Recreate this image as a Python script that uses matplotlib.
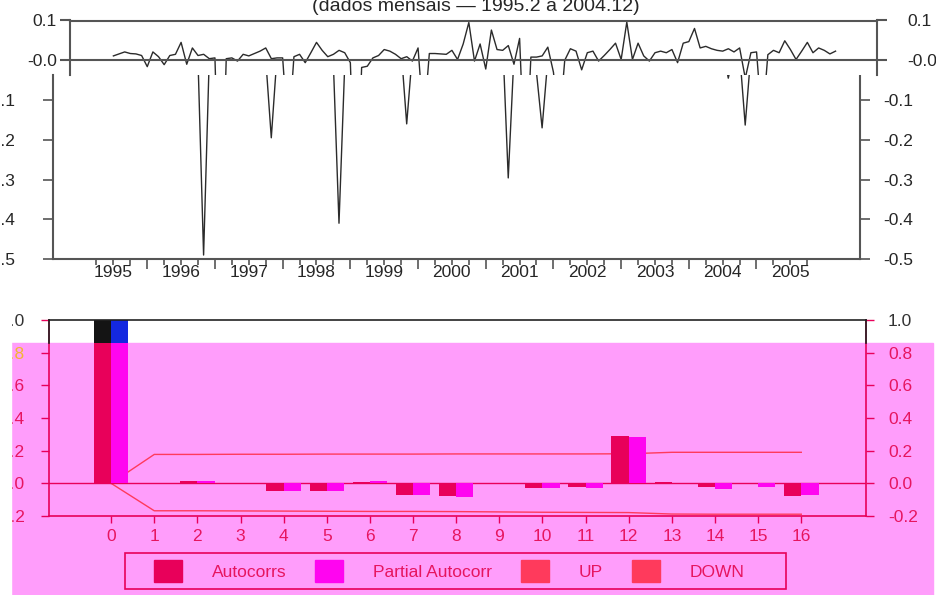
import numpy as np
import matplotlib.pyplot as plt
from matplotlib.patches import Rectangle, Patch

# serie mensal (abr/1995 .. dez/2005)
serie = [0.011, 0.016, 0.021, 0.017, 0.016, 0.012, -0.016, 0.021, 0.009, -0.011,
         0.012, 0.015, 0.045, -0.010, 0.031, 0.012, 0.015, 0.004, 0.006, -0.49,
         0.004, 0.006, -0.002, 0.015, 0.011, 0.017, 0.023, 0.031, 0.004, 0.006,
         0.006, -0.195, 0.009, 0.015, -0.006, 0.019, 0.045, 0.025, 0.009, 0.015,
         0.025, 0.019, -0.006, -0.41, -0.018, -0.015, 0.006, 0.012, 0.027, 0.023,
         0.015, 0.004, 0.009, -0.002, 0.031, -0.16, 0.017, 0.017, 0.016, 0.015,
         0.025, 0.002, 0.041, 0.095, -0.002, 0.041, -0.022, 0.076, 0.027, 0.025,
         0.037, -0.010, 0.055, -0.296, 0.008, 0.008, 0.011, 0.033, -0.030, -0.17,
         0.000, 0.029, 0.023, -0.024, 0.019, 0.023, -0.002, 0.012, 0.027, 0.043,
         0.002, 0.096, 0.002, 0.043, 0.011, -0.002, 0.019, 0.023, 0.019, 0.027,
         -0.006, 0.043, 0.047, 0.080, 0.031, 0.035, 0.029, 0.025, 0.023, 0.029,
         0.021, 0.031, -0.045, 0.019, 0.021, -0.163, 0.014, 0.025, 0.019, 0.049,
         0.027, 0.002, 0.023, 0.045, 0.019, 0.031, 0.025, 0.016, 0.023]
anos = list(range(1995, 2006))

# correlogramas
lags = np.arange(17)
autocorrs = [1.0, 0.0, 0.015, 0.0, -0.045, -0.045, 0.008, -0.07, -0.077, 0.0,
             -0.028, -0.02, 0.288, 0.01, -0.02, -0.005, -0.077]
partial = [1.0, 0.0, 0.015, 0.0, -0.045, -0.045, 0.015, -0.07, -0.083, 0.0,
           -0.027, -0.027, 0.282, 0.003, -0.037, -0.02, -0.069]
up = [0.0, 0.177, 0.177, 0.178, 0.178, 0.179, 0.179, 0.179, 0.18, 0.18, 0.18,
      0.18, 0.181, 0.19, 0.19, 0.19, 0.19]
down = [0.0, -0.168, -0.168, -0.169, -0.17, -0.171, -0.172, -0.172, -0.173,
        -0.175, -0.177, -0.178, -0.179, -0.188, -0.189, -0.189, -0.189]

W, H = 936, 595
plt.rcParams['font.family'] = ['Liberation Sans', 'DejaVu Sans']
FS = 12.5
PX = 72 / 100  # pixels -> points

C_AC = '#e8005a'
C_PAC = '#ff05f0'
C_UP = '#ff3a5c'
C_TXT = '#e6155f'
C_PINK = '#ff9dfb'
C_GREY = '#555555'
C_LAB = '#262626'


def box(x0, y0, x1, y1):
    return [x0 / W, 1 - y1 / H, (x1 - x0) / W, (y1 - y0) / H]


fig = plt.figure(figsize=(W / 100, H / 100), dpi=100)

t = 1995 + (np.arange(len(serie)) + 3) / 12
xlo, xhi = 1994.609, 2006.529
split = -0.037

# --- serie temporal (parte principal + faixa superior deslocada) ---
ax = fig.add_axes(box(53, 75, 860, 259))
band = fig.add_axes(box(70, 20.5, 877, 75))
for a in (ax, band):
    a.plot(t, serie, color='#2b2b2b', lw=1)
    a.set_xlim(xlo, xhi)
    for s in a.spines.values():
        s.set_color(C_GREY)
        s.set_linewidth(1.5)

ax.set_ylim(-0.5, split)
ax.spines['top'].set_visible(False)
yt = [-0.1, -0.2, -0.3, -0.4, -0.5]
ax.set_yticks(yt, [f'{v:.1f}' for v in yt])
ax.tick_params(axis='y', left=True, right=False, length=10 * PX, width=1.2,
               color=C_GREY, labelsize=FS, labelcolor=C_LAB, pad=28 * PX)
ax.set_xticks(anos[1:])
ax.set_xticks([a + q / 4 for a in anos for q in (1, 2, 3)], minor=True)
ax.tick_params(axis='x', which='major', length=10 * PX, width=1.2,
               color=C_GREY, labelbottom=False)
ax.tick_params(axis='x', which='minor', length=6 * PX, width=1.2,
               color=C_GREY)
for a_ in anos:
    ax.text(a_ + 0.5, -6 / 184, str(a_), transform=ax.get_xaxis_transform(),
            ha='center', va='top', fontsize=FS, color=C_LAB)
axr = ax.secondary_yaxis('right')
axr.set_yticks(yt, [f'{v:.1f}' for v in yt])
axr.tick_params(length=10 * PX, width=1.2, color=C_GREY, labelsize=FS,
                labelcolor=C_LAB, pad=13 * PX)
axr.spines['right'].set_visible(False)

band.set_ylim(split, 0.1)
band.spines['bottom'].set_visible(False)
band.axhline(0, color=C_GREY, lw=1.5)
band.set_xticks([])
band.set_yticks([0.1, 0.0], ['0.1', '-0.0'])
band.tick_params(axis='y', left=True, right=False, length=10 * PX, width=1.5,
                 color=C_GREY, labelsize=FS, labelcolor=C_LAB, pad=3 * PX)
bandr = band.secondary_yaxis('right')
bandr.set_yticks([0.1, 0.0], ['0.1', '-0.0'])
bandr.tick_params(length=10 * PX, width=1.5, color=C_GREY, labelsize=FS,
                  labelcolor=C_LAB, pad=20 * PX)
bandr.spines['right'].set_visible(False)

fig.text(476 / W, 1 - 11 / H, '(dados mensais \u2014 1995.2 a 2004.12)',
         ha='center', va='baseline', fontsize=14, color=C_LAB)

# --- correlograma ---
cut = 0.861
fig.add_artist(Rectangle((11 / W, 0), (933 - 11) / W, 1 - 342.7 / H,
                         transform=fig.transFigure, color=C_PINK, zorder=-1))

ac = fig.add_axes(box(49, 320, 866, 516))
ac.set_facecolor('none')
ac.set_xlim(-1.44, 17.5)
ac.set_ylim(-0.2, 1.0)
ac.axhline(0, color=C_AC, lw=1, zorder=0.9)
ac.plot(lags, up, color=C_UP, lw=1, zorder=0.8)
ac.plot(lags, down, color=C_UP, lw=1, zorder=0.8)
ac.bar(lags - 0.2, autocorrs, width=0.4, color=C_AC)
ac.bar(lags + 0.2, partial, width=0.4, color=C_PAC)
# parte acima do corte (cores originais)
ac.bar(lags - 0.2, np.clip(np.array(autocorrs) - cut, 0, None), bottom=cut,
       width=0.4, color='#141414')
ac.bar(lags + 0.2, np.clip(np.array(partial) - cut, 0, None), bottom=cut,
       width=0.4, color='#1428e0')

for s in ac.spines.values():
    s.set_color(C_AC)
    s.set_linewidth(1.2)
ac.spines['top'].set_color('#222222')
for xv in ac.get_xlim():
    ac.plot([xv, xv], [cut, 1.0], color='#222222', lw=1.2, clip_on=False,
            zorder=5)

ac.set_xticks(lags, [str(v) for v in lags])
ac.tick_params(axis='x', length=7 * PX, width=1, color=C_AC, labelsize=FS,
               labelcolor=C_TXT, pad=6 * PX)
yv = [-0.2, 0.0, 0.2, 0.4, 0.6, 0.8, 1.0]
ac.set_yticks(yv, [f'{v:.1f}' for v in yv])
ac.tick_params(axis='y', left=True, right=False, length=8 * PX, width=1,
               color=C_AC, labelsize=FS, labelcolor=C_TXT, pad=16 * PX)
acr = ac.secondary_yaxis('right')
acr.set_yticks(yv, [f'{v:.1f}' for v in yv])
acr.tick_params(length=8 * PX, width=1, color=C_AC, labelsize=FS,
                labelcolor=C_TXT, pad=14 * PX)
acr.spines['right'].set_visible(False)
for a in (ac, acr):
    ticks = a.yaxis.get_major_ticks()
    ticks[-1].tick1line.set_color('#222222')
    ticks[-1].tick2line.set_color('#222222')
    ticks[-1].label1.set_color('#333333')
    ticks[-1].label2.set_color('#333333')
ac.yaxis.get_major_ticks()[-2].label1.set_color('#f2b632')

handles = [Patch(color=C_AC), Patch(color=C_PAC), Patch(color=C_UP),
           Patch(color=C_UP)]
fig.legend(handles, ['Autocorrs', 'Partial Autocorr', 'UP', 'DOWN'], ncol=4,
           loc='center left', bbox_to_anchor=(154 / W, 1 - 571 / H),
           frameon=False, borderpad=0, borderaxespad=0, handlelength=1.61,
           handleheight=1.55, handletextpad=1.72, columnspacing=1.67,
           fontsize=FS, labelcolor=C_TXT)
fig.add_artist(Rectangle((125 / W, 1 - 589 / H), 661 / W, 36 / H, fill=False,
                         ec=C_AC, lw=1.2, transform=fig.transFigure))

fig.add_artist(Rectangle((0, 0), 11 / W, 1 - 300 / H, color='white',
                         transform=fig.transFigure, zorder=10))

fig.savefig('out.png', dpi=100)
